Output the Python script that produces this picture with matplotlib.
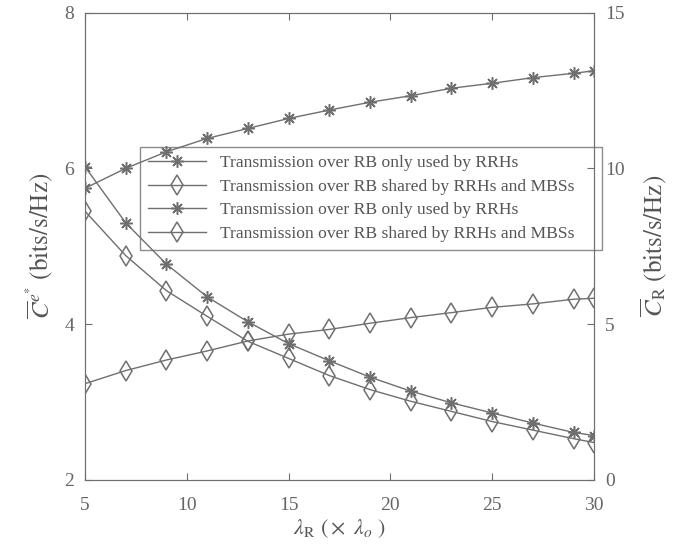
import matplotlib
matplotlib.use('Agg')
import matplotlib.pyplot as plt

plt.rcParams['font.family'] = ['Liberation Serif', 'DejaVu Serif']
plt.rcParams['mathtext.fontset'] = 'stix'

### data
x = [5, 7, 9, 11, 13, 15, 17, 19, 21, 23, 25, 27, 29, 30]

# left axis, decreasing curves
c_e_only = [6.02, 5.30, 4.77, 4.35, 4.03, 3.75, 3.53, 3.32, 3.14, 2.99, 2.86, 2.73, 2.61, 2.57]
c_e_shared = [5.45, 4.88, 4.43, 4.10, 3.78, 3.56, 3.34, 3.16, 3.01, 2.88, 2.75, 2.64, 2.53, 2.48]

# right axis, increasing curves
c_r_only = [9.36, 10.00, 10.53, 10.96, 11.28, 11.60, 11.87, 12.12, 12.33, 12.57, 12.73, 12.91, 13.05, 13.13]
c_r_shared = [3.09, 3.51, 3.85, 4.14, 4.46, 4.68, 4.83, 5.03, 5.21, 5.37, 5.54, 5.65, 5.80, 5.83]

labels = ['Transmission over RB only used by RRHs',
          'Transmission over RB shared by RRHs and MBSs']

gray = '#6f6f6f'
star = (8, 2, 0)

fig = plt.figure(figsize=(6.95, 5.51), dpi=100)
ax = fig.add_axes([0.1223, 0.1289, 0.7324, 0.8484])
ax2 = ax.twinx()

l1, = ax.plot(x, c_e_only, '-', color=gray, lw=1, marker=star, ms=9, mew=1.1)
l2, = ax.plot(x, c_e_shared, '-', color=gray, lw=1, marker='d', ms=10,
              mfc='none', mew=1.1)
l3, = ax2.plot(x, c_r_only, '-', color=gray, lw=1, marker=star, ms=9, mew=1.1)
l4, = ax2.plot(x, c_r_shared, '-', color=gray, lw=1, marker='d', ms=10,
               mfc='none', mew=1.1)

ax.set_xlim(5, 30)
ax.set_ylim(2, 8)
ax2.set_ylim(0, 15)
ax.set_xticks([5, 10, 15, 20, 25, 30])
ax.set_yticks([2, 4, 6, 8])
ax2.set_yticks([0, 5, 10, 15])

for a in (ax, ax2):
    for s in a.spines.values():
        s.set_color(gray)
    a.tick_params(direction='in', length=5, colors=gray, labelsize=14,
                  labelcolor='#666666', pad=8)
ax.tick_params(axis='x', top=True, pad=12)
ax.tick_params(axis='y', right=False)

ax.set_xlabel(r'$\lambda_{\mathrm{R}}\ \mathrm{(}\times\ \lambda_o\ \mathrm{)}$', fontsize=16,
              color='#555555', labelpad=3)
ax.set_ylabel(r'$\overline{C}^{e^{*}}\ \mathrm{(bits/s/Hz)}$', fontsize=18,
              color='#555555', labelpad=6)
ax2.set_ylabel(r'$\overline{C}_{\mathrm{R}}\ \mathrm{(bits/s/Hz)}$', fontsize=18,
               color='#555555', labelpad=10)

leg = ax2.legend([l1, l2, l3, l4], labels + labels, loc='upper left',
                 bbox_to_anchor=(0.108, 0.488, 0.908, 0.224), mode='expand',
                 fontsize=12.6, fancybox=False,
                 facecolor='none', edgecolor=gray, handlelength=3.3,
                 borderaxespad=0, labelspacing=0.42, borderpad=0.45)
leg.get_frame().set_linewidth(1)
for t in leg.get_texts():
    t.set_color('#555555')

plt.savefig('out.png', dpi=100)
